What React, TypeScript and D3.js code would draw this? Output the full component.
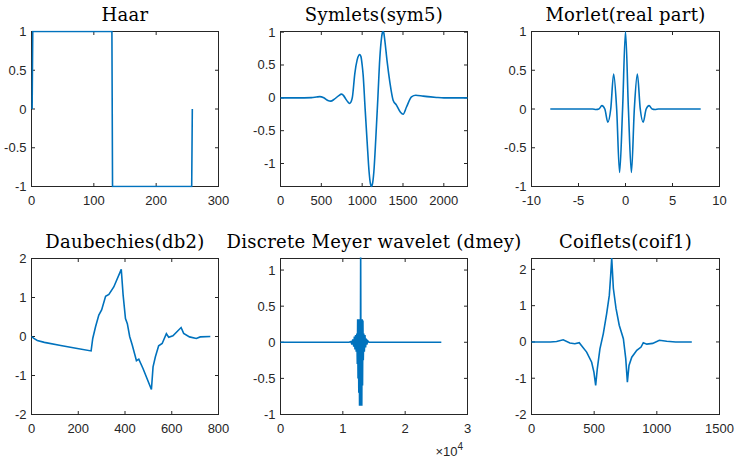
import React from "react";
import * as d3 from "d3";

const W = 735;
const H = 458;
const BLUE = "#0072BD";
const INK = "#262626";

// Haar
const haarPts = [[1, 0], [2, 1], [129, 1], [130, -1], [257, -1], [258, 0]];
const haarXTicks = [0, 100, 200, 300];
const haarYTicks = [-1, -0.5, 0, 0.5, 1];

// Symlets(sym5)
const symPts = [
  [0, 0], [200, 0], [380, 0.003], [440, 0.012], [482, 0.018], [530, 0], [580, -0.04], [615, -0.05],
  [660, -0.02], [710, 0.03], [747, 0.056], [775, 0.03], [800, -0.02], [830, -0.07], [849, -0.086],
  [868, -0.05], [881, 0.015], [910, 0.37], [938, 0.575], [960, 0.65], [971, 0.66], [985, 0.63],
  [1000, 0.5], [1012, 0.35], [1036, -0.16], [1061, -0.67], [1085, -1.13], [1100, -1.3], [1114, -1.35],
  [1128, -1.3], [1143, -1.13], [1167, -0.62], [1192, -0.01], [1216, 0.6], [1237, 0.91], [1250, 1.0],
  [1257, 1.01], [1265, 0.99], [1277, 0.88], [1306, 0.55], [1339, 0.24], [1379, -0.035], [1420, -0.11],
  [1469, -0.22], [1502, -0.25], [1543, -0.14], [1604, 0.015], [1657, 0.04], [1747, 0.026],
  [1910, 0.006], [2000, 0], [2290, 0],
];
const symXTicks = [0, 500, 1000, 1500, 2000];
const symYTicks = [-1, -0.5, 0, 0.5, 1];

// Morlet(real part)
const morletPts = [
  [-8, 0], [-3.5, 0], [-3.14, -0.007], [-2.83, 0], [-2.51, 0.043], [-2.2, 0], [-1.88, -0.17],
  [-1.57, 0], [-1.26, 0.45], [-0.94, 0], [-0.63, -0.82], [-0.31, 0], [0, 1],
  [0.31, 0], [0.63, -0.82], [0.94, 0], [1.26, 0.45], [1.57, 0], [1.88, -0.17], [2.2, 0],
  [2.51, 0.043], [2.83, 0], [3.14, -0.007], [3.5, 0], [8, 0],
];
const morletXTicks = [-10, -5, 0, 5, 10];
const morletYTicks = [-1, -0.5, 0, 0.5, 1];

// Daubechies(db2)
const dbPts = [
  [0, 0], [10, -0.05], [25, -0.1], [55, -0.15], [125, -0.23], [190, -0.3], [255, -0.37],
  [262, -0.05], [274, 0.25], [288, 0.55], [300, 0.68], [317, 1.03], [331, 1.08], [352, 1.27],
  [384, 1.72], [392, 1.06], [402, 0.46], [410, 0.33], [420, 0], [431, -0.22], [449, -0.62],
  [459, -0.58], [477, -0.82], [513, -1.36], [520, -0.78], [530, -0.52], [544, -0.24], [559, -0.18],
  [577, 0.07], [587, -0.02], [605, 0.02], [640, 0.23], [651, 0.08], [676, -0.01], [705, -0.05],
  [722, -0.01], [765, 0],
];
const dbXTicks = [0, 200, 400, 600, 800];
const dbYTicks = [-2, -1, 0, 1, 2];

// Discrete Meyer wavelet (dmey)
const dmeyPts = [
  [0, 0], [11000, 0], [11300, 0.01], [11450, -0.03], [11600, 0.04], [11750, -0.06], [11850, 0.08],
  [11950, -0.1], [12050, 0.1], [12150, -0.13], [12250, 0.12], [12320, -0.3], [12380, 0.32],
  [12440, -0.5], [12500, 0.32], [12560, -0.7], [12620, 0.32], [12680, -0.88], [12740, 0.32],
  [12800, -0.88], [12860, 1.3], [12920, -0.88], [12980, 0.32], [13040, -0.88], [13100, 0.32],
  [13160, -0.6], [13220, 0.3], [13280, -0.25], [13360, 0.12], [13450, -0.13], [13550, 0.1],
  [13650, -0.07], [13750, 0.05], [13850, -0.03], [14000, 0.02], [14200, 0], [25800, 0],
];
const dmeyXTicks = [0, 10000, 20000, 30000];
const dmeyYTicks = [-1, -0.5, 0, 0.5, 1];

// Coiflets(coif1)
const coifPts = [
  [0, 0], [150, 0], [200, 0.01], [253, 0.06], [306, -0.03], [346, -0.05], [381, -0.02], [392, -0.07],
  [440, -0.28], [480, -0.56], [498, -0.83], [512, -1.2], [525, -0.74], [546, -0.19], [573, 0.23],
  [600, 0.79], [621, 1.29], [632, 1.85], [640, 2.31], [653, 1.48], [674, 0.93], [700, 0.46],
  [733, 0.09], [752, -0.46], [765, -1.11], [778, -0.65], [800, -0.42], [840, -0.23], [874, -0.14],
  [892, -0.02], [920, -0.06], [967, -0.04], [1020, 0.045], [1079, 0.02], [1150, 0], [1279, 0],
];
const coifXTicks = [0, 500, 1000, 1500];
const coifYTicks = [-2, -1, 0, 1, 2];

const cols = [[31.5, 218.5], [280.5, 467.5], [531.5, 719.5]];
const rows = [[31.5, 186.5], [258.5, 414.5]];

const SANS = "'Liberation Sans', Arial, sans-serif";

function Panel({ id, title, pts, xDomain, yDomain, xTicks, yTicks, xFmt, col, row, curve, exp }) {
  const [l, r] = cols[col];
  const [t, b] = rows[row];
  const x = d3.scaleLinear().domain(xDomain).range([l, r]);
  const y = d3.scaleLinear().domain(yDomain).range([b, t]);
  const line = d3
    .line()
    .x((d) => x(d[0]))
    .y((d) => y(d[1]))
    .curve(curve || d3.curveLinear);
  const tl = 3.5;
  const fmt = xFmt || ((v) => String(v));
  return (
    <g>
      <defs>
        <clipPath id={id}>
          <rect x={l - 1} y={t - 1} width={r - l + 2} height={b - t + 2} />
        </clipPath>
      </defs>
      <text
        x={(l + r) / 2}
        y={t - 10.5}
        textAnchor="middle"
        fontFamily="'DejaVu Serif', serif"
        fontSize={18}
        letterSpacing={0.3}
        fill="#000"
      >
        {title}
      </text>
      <rect x={l} y={t} width={r - l} height={b - t} fill="none" stroke={INK} strokeWidth={1} />
      {xTicks.map((v) => (
        <g key={"x" + v}>
          <line x1={x(v)} x2={x(v)} y1={b} y2={b - tl} stroke={INK} />
          <line x1={x(v)} x2={x(v)} y1={t} y2={t + tl} stroke={INK} />
          <text x={x(v)} y={b + 18.5} textAnchor="middle" fontFamily={SANS} fontSize={13} fill={INK}>
            {fmt(v)}
          </text>
        </g>
      ))}
      {yTicks.map((v) => (
        <g key={"y" + v}>
          <line x1={l} x2={l + tl} y1={y(v)} y2={y(v)} stroke={INK} />
          <line x1={r} x2={r - tl} y1={y(v)} y2={y(v)} stroke={INK} />
          <text x={l - 5} y={y(v) + 4.5} textAnchor="end" fontFamily={SANS} fontSize={13} fill={INK}>
            {String(v)}
          </text>
        </g>
      ))}
      <path d={line(pts)} fill="none" stroke={BLUE} strokeWidth={1.6} clipPath={`url(#${id})`} />
      {exp && (
        <text x={r - 32} y={b + 41} fontFamily={SANS} fontSize={13} fill={INK}>
          ×10
          <tspan fontSize={10} dy={-6}>
            {exp}
          </tspan>
        </text>
      )}
    </g>
  );
}

export default function App() {
  return (
    <svg width={W} height={H} style={{ position: "absolute", left: 0, top: 0, background: "#fff" }}>
      <rect width={W} height={H} fill="#fff" />
      <Panel id="c1" title="Haar" pts={haarPts} xDomain={[0, 300]} yDomain={[-1, 1]}
        xTicks={haarXTicks} yTicks={haarYTicks} col={0} row={0} />
      <Panel id="c2" title="Symlets(sym5)" pts={symPts} xDomain={[0, 2290]} yDomain={[-1.35, 1.01]}
        xTicks={symXTicks} yTicks={symYTicks} col={1} row={0} curve={d3.curveMonotoneX} />
      <Panel id="c3" title="Morlet(real part)" pts={morletPts} xDomain={[-10, 10]} yDomain={[-1, 1]}
        xTicks={morletXTicks} yTicks={morletYTicks} col={2} row={0} curve={d3.curveMonotoneX} />
      <Panel id="c4" title="Daubechies(db2)" pts={dbPts} xDomain={[0, 800]} yDomain={[-2, 2]}
        xTicks={dbXTicks} yTicks={dbYTicks} col={0} row={1} />
      <Panel id="c5" title="Discrete Meyer wavelet (dmey)" pts={dmeyPts} xDomain={[0, 30000]} yDomain={[-1, 1.16]}
        xTicks={dmeyXTicks} yTicks={dmeyYTicks} col={1} row={1} xFmt={(v) => String(v / 10000)} exp="4" />
      <Panel id="c6" title="Coiflets(coif1)" pts={coifPts} xDomain={[0, 1500]} yDomain={[-2, 2.3]}
        xTicks={coifXTicks} yTicks={coifYTicks} col={2} row={1} />
    </svg>
  );
}
